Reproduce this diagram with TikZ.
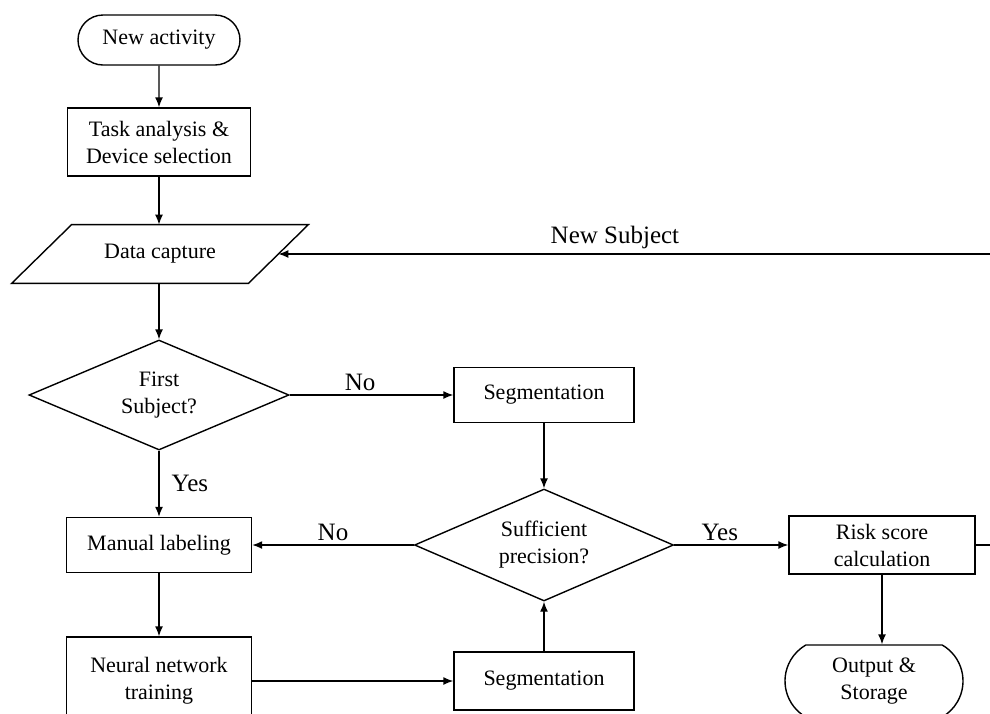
\documentclass[tikz,border=0pt]{standalone}
\usepackage{fontspec}
\setmainfont{Liberation Serif}
\usepackage{tikz}
\usetikzlibrary{arrows.meta}
\usetikzlibrary{shapes.geometric}
\usetikzlibrary{shapes.misc}
\tikzset{
  % Arrow tip used by all connectors
  >={Latex[length=5pt,width=4pt]},
  % Common look for the flowchart shapes
  shapeline/.style={draw=black, line width=0.7pt, fill=white, align=center, inner sep=0pt}
}

\begin{document}
\begin{tikzpicture}[
    x=0.5pt, y=-0.5pt,
    font=\fontsize{11}{13.5}\selectfont,
    process/.style={shapeline, rectangle},
    terminal/.style={shapeline, rounded rectangle},
    storage/.style={shapeline, rounded rectangle, rounded rectangle arc length=120},
    io/.style={rectangle, align=center, inner sep=0pt},
    decision/.style={shapeline, diamond, aspect=2.36},
    arrow/.style={->, line width=0.7pt, draw=black},
    edgelabel/.style={font=\fontsize{12.5}{15}\selectfont, inner sep=2pt}
]
\path[use as bounding box, clip] (0,0) rectangle (990,713);

% Flowchart nodes
\node[terminal, minimum width=81pt, minimum height=25pt] (start) at (159,40) {New activity};
\node[process, minimum width=91.5pt, minimum height=34pt] (task) at (159,142) {Task analysis \&\\Device selection};
\node[io, minimum width=118pt, minimum height=29pt] (capture) at (160,254) {Data capture};
\node[decision, minimum width=130pt, minimum height=55pt] (first) at (159,395) {First\\Subject?};
\node[process, minimum width=90pt, minimum height=27.5pt] (seg1) at (544,395) {Segmentation};
\node[decision, minimum width=129.5pt, minimum height=56pt] (suff) at (544,545) {Sufficient\\precision?};
\node[process, minimum width=92.5pt, minimum height=27.5pt] (manual) at (159,545) {Manual labeling};
\node[process, minimum width=93pt, minimum height=29pt] (risk) at (882,545) {Risk score\\calculation};
\node[process, minimum width=92.5pt, minimum height=44pt] (neural) at (159,681) {Neural network\\training};
\node[process, minimum width=90pt, minimum height=29pt] (seg2) at (544,681) {Segmentation};
\node[storage, minimum width=89pt, minimum height=36pt] (output) at (874,681) {Output \&\\Storage};

% Data capture parallelogram
\draw[line width=0.7pt] ([xshift=-15pt]capture.south west) -- ([xshift=-15pt]capture.south east)
  -- ([xshift=15pt]capture.north east) -- ([xshift=15pt]capture.north west) -- cycle;

% Connectors
\draw[arrow] (start) -- (task);
\draw[arrow] (task) -- (task |- capture.north);
\draw[arrow] (task |- capture.south) -- (first);
\draw[arrow] (first) -- node[edgelabel, pos=0.43, above] {No} (seg1);
\draw[arrow] (first) -- node[edgelabel, right, xshift=4pt] {Yes} (manual);
\draw[arrow] (seg1) -- (suff);
\draw[arrow] (suff) -- node[edgelabel, above] {No} (manual);
\draw[arrow] (suff) -- node[edgelabel, pos=0.4, above] {Yes} (risk);
\draw[arrow] (manual) -- (neural);
\draw[arrow] (neural) -- (seg2);
\draw[arrow] (seg2) -- (suff);
\draw[arrow] (risk.south) -- (risk.south |- output.north);

% Loop back for the next subject
\coordinate (back) at (1010,545);
\draw[arrow] (risk.east) -- (back) |- node[edgelabel, pos=0.77, above] {New Subject} (capture.east);

\end{tikzpicture}
\end{document}
